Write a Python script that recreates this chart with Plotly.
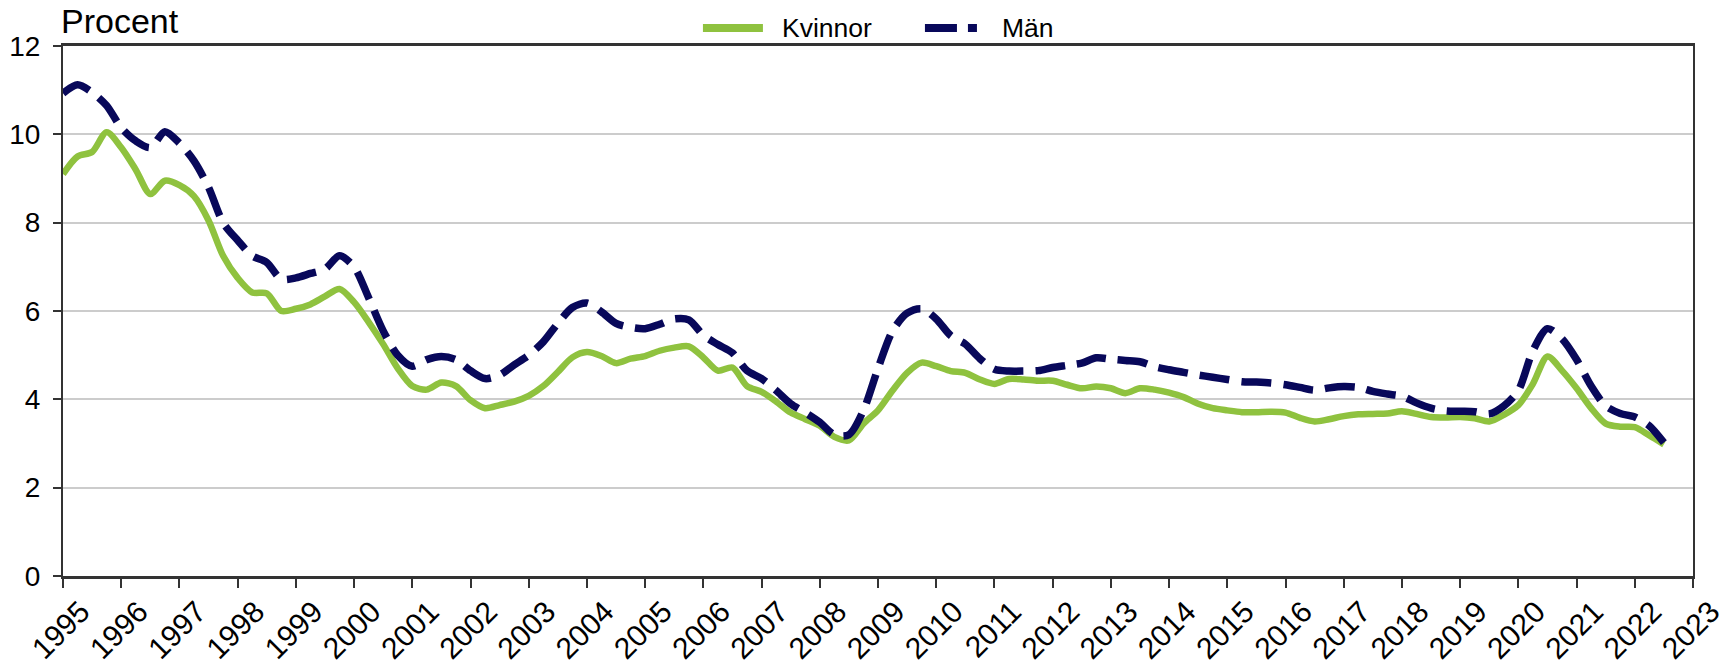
import plotly.graph_objects as go

# Quarterly observations (decimal year), 1995 Q1 .. 2022 Q3
quarters = [1995 + i * 0.25 for i in range(111)]

kvinnor = [
    9.1, 9.5, 9.6, 10.05, 9.7, 9.2, 8.65, 8.95, 8.85, 8.6, 8.05, 7.25,
    6.75, 6.42, 6.4, 6.0, 6.05, 6.15, 6.33, 6.5, 6.2, 5.75, 5.25, 4.7,
    4.3, 4.22, 4.38, 4.3, 3.98, 3.8, 3.87, 3.95, 4.08, 4.3, 4.62, 4.95,
    5.07, 4.98, 4.82, 4.92, 4.98, 5.1, 5.17, 5.2, 4.95, 4.65, 4.72, 4.3,
    4.17, 3.95, 3.7, 3.55, 3.4, 3.15, 3.07, 3.45, 3.75, 4.2, 4.6, 4.83,
    4.75, 4.64, 4.6, 4.45, 4.35, 4.46, 4.45, 4.42, 4.42, 4.33, 4.25, 4.29,
    4.25, 4.14, 4.25, 4.22, 4.15, 4.05, 3.9, 3.8, 3.75, 3.71, 3.71, 3.72,
    3.7, 3.58, 3.5, 3.55, 3.62, 3.66, 3.67, 3.68, 3.73, 3.67, 3.6, 3.59,
    3.6, 3.57, 3.5, 3.65, 3.87, 4.35, 4.97, 4.65, 4.25, 3.8, 3.45, 3.38,
    3.37, 3.18, 2.98,
]

man = [
    10.93, 11.12, 10.95, 10.65, 10.15, 9.85, 9.7, 10.06, 9.8, 9.4, 8.8, 8.0,
    7.6, 7.25, 7.1, 6.72, 6.75, 6.85, 6.95, 7.25, 7.0, 6.3, 5.55, 5.0,
    4.75, 4.9, 4.97, 4.9, 4.65, 4.47, 4.55, 4.78, 5.0, 5.3, 5.72, 6.08,
    6.18, 5.98, 5.72, 5.63, 5.6, 5.7, 5.82, 5.8, 5.45, 5.24, 5.05, 4.65,
    4.47, 4.2, 3.9, 3.7, 3.48, 3.2, 3.2, 3.75, 4.7, 5.55, 5.95, 6.05,
    5.82, 5.44, 5.25, 4.92, 4.68, 4.64, 4.64, 4.65, 4.72, 4.77, 4.82, 4.94,
    4.91, 4.88, 4.85, 4.74, 4.67, 4.61, 4.55, 4.5, 4.45, 4.4, 4.39, 4.37,
    4.33, 4.27, 4.21, 4.26, 4.29, 4.27, 4.18, 4.12, 4.07, 3.92, 3.8, 3.74,
    3.73, 3.72, 3.67, 3.85, 4.2, 5.1, 5.6, 5.37, 4.9, 4.3, 3.85, 3.68,
    3.6, 3.4, 3.02,
]

series_names = ["Kvinnor", "Män"]
year_ticks = list(range(1995, 2024))
year_labels = [str(y) for y in year_ticks]
y_ticks = [0, 2, 4, 6, 8, 10, 12]

GREEN = "#8fc23f"
NAVY = "#08085a"
FONT = "Liberation Sans, Arial, sans-serif"
MAN_DASH = "30px,12px"

fig = go.Figure()
fig.add_trace(go.Scatter(
    x=quarters, y=kvinnor, name=series_names[0], mode="lines", showlegend=False,
    line=dict(color=GREEN, width=6.5, shape="spline", smoothing=0.8),
))
fig.add_trace(go.Scatter(
    x=quarters, y=man, name=series_names[1], mode="lines", showlegend=False,
    line=dict(color=NAVY, width=7.5, dash=MAN_DASH, shape="spline", smoothing=0.8),
))

# Legend drawn as keys (paper coordinates) above the plot area
LEG_Y = 1.034
legend_shapes = [
    dict(type="line", xref="paper", yref="paper", x0=0.3926, x1=0.4294, y0=LEG_Y, y1=LEG_Y,
         line=dict(color=GREEN, width=8)),
    dict(type="line", xref="paper", yref="paper", x0=0.5288, x1=0.5607, y0=LEG_Y, y1=LEG_Y,
         line=dict(color=NAVY, width=8, dash="32px,11px")),
]
legend_texts = [
    dict(text=series_names[0], x=0.4411),
    dict(text=series_names[1], x=0.5761),
]

annotations = [dict(
    text="Procent", xref="paper", yref="paper", x=0, y=1,
    xanchor="left", yanchor="middle", xshift=-4, yshift=25,
    showarrow=False, font=dict(size=34, family=FONT, color="black"),
)]
for lt in legend_texts:
    annotations.append(dict(
        text=lt["text"], xref="paper", yref="paper", x=lt["x"], y=LEG_Y,
        xanchor="left", yanchor="middle", xshift=-2, showarrow=False,
        font=dict(size=26.5, family=FONT, color="black"),
    ))

fig.update_layout(
    width=1732, height=664,
    margin=dict(l=63, r=39, t=46, b=88, autoexpand=False),
    paper_bgcolor="white", plot_bgcolor="white",
    font=dict(family=FONT, color="black", size=26),
    showlegend=False,
    shapes=legend_shapes,
    annotations=annotations,
)

fig.update_xaxes(
    range=[1995, 2023], tickmode="array", tickvals=year_ticks, ticktext=year_labels,
    tickangle=-45, tickfont=dict(size=30), ticks="outside", ticklen=9, tickwidth=2,
    tickcolor="#333333", showgrid=False, zeroline=False,
    showline=True, linecolor="#333333", linewidth=3, mirror=True,
    ticklabelshift=18, ticklabelstandoff=-6, automargin=False,
    ticklabeloverflow="allow",
)
fig.update_yaxes(
    range=[0, 12], tickmode="array", tickvals=y_ticks, ticktext=[str(v) for v in y_ticks],
    tickfont=dict(size=28), ticks="outside", ticklen=8, tickwidth=2, tickcolor="#333333",
    showgrid=True, gridcolor="#cccccc", gridwidth=2, zeroline=False,
    showline=True, linecolor="#333333", linewidth=2, mirror=True,
    ticklabelstandoff=7, automargin=False,
)

fig.write_html(
    "out.html",
    config={"displayModeBar": False},
    post_script="document.body.style.margin='0';document.body.style.overflow='hidden';",
)
